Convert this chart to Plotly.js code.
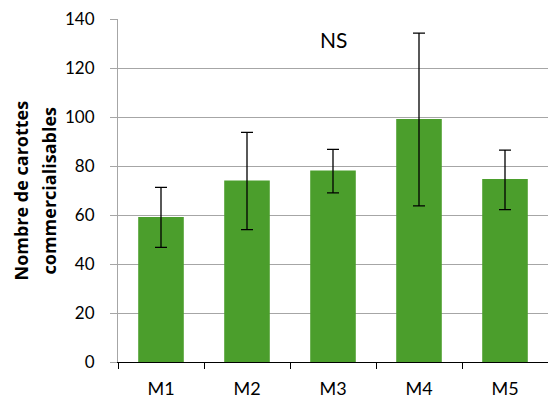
<!DOCTYPE html>
<html>
<head>
<meta charset="utf-8">
<script src="https://cdn.plot.ly/plotly-3.0.1.min.js"></script>
<style>html,body{margin:0;padding:0;background:#fff;}#chart{width:548px;height:398px;}</style>
</head>
<body>
<div id="chart"></div>
<script>
const categories = ["M1", "M2", "M3", "M4", "M5"];
const values = [59.2, 74.1, 78.2, 99.2, 74.7];
const errPlus = [12.1, 19.6, 8.6, 35.0, 11.8];
const errMinus = [12.4, 20.1, 9.2, 35.5, 12.5];
const yTitleLines = ["Nombre de carottes", "commercialisables"];
const note = "NS";

const font = "Lato, 'Open Sans', sans-serif";
const trace = {
  type: "bar",
  x: categories,
  y: values,
  marker: {color: "#4b9e2c", line: {width: 0}},
  error_y: {type: "data", symmetric: false, array: errPlus, arrayminus: errMinus,
            color: "#000", thickness: 1.3, width: 6}
};
const titleX = [-0.2256, -0.1605];
const layout = {
  width: 548, height: 398,
  margin: {l: 118, r: 0, t: 19, b: 36},
  paper_bgcolor: "#fff", plot_bgcolor: "#fff",
  bargap: 0.47,
  showlegend: false,
  font: {family: font, size: 17, color: "#000"},
  xaxis: {type: "category", tickson: "boundaries", ticks: "outside", ticklen: 6,
          tickcolor: "#000", tickwidth: 1, showline: true, linecolor: "#000", linewidth: 1,
          showgrid: false, zeroline: false, ticklabelstandoff: 10,
          tickfont: {family: font, size: 18, color: "#000"}},
  yaxis: {range: [0, 140], dtick: 20, ticks: "outside", ticklen: 7, tickcolor: "#a6a6a6",
          tickwidth: 1, showline: true, linecolor: "#a6a6a6", linewidth: 1,
          showgrid: true, gridcolor: "#a6a6a6", gridwidth: 1, zeroline: false,
          ticklabelstandoff: 12,
          tickfont: {family: font, size: 17, color: "#000"}},
  annotations: yTitleLines.map((t, i) => ({
     text: "<b>" + t + "</b>", textangle: -90, xref: "paper", yref: "paper",
     x: titleX[i], y: 0.5, xanchor: "center", yanchor: "middle", showarrow: false,
     font: {family: "'Open Sans', sans-serif", size: 18, color: "#000"}})).concat([
    {text: note, xref: "x", yref: "y", x: 2, y: 131.5, xanchor: "center", yanchor: "middle",
     showarrow: false, font: {family: font, size: 21, color: "#000"}}
  ])
};
Plotly.newPlot("chart", [trace], layout, {displayModeBar: false, staticPlot: true});
</script>
</body>
</html>
